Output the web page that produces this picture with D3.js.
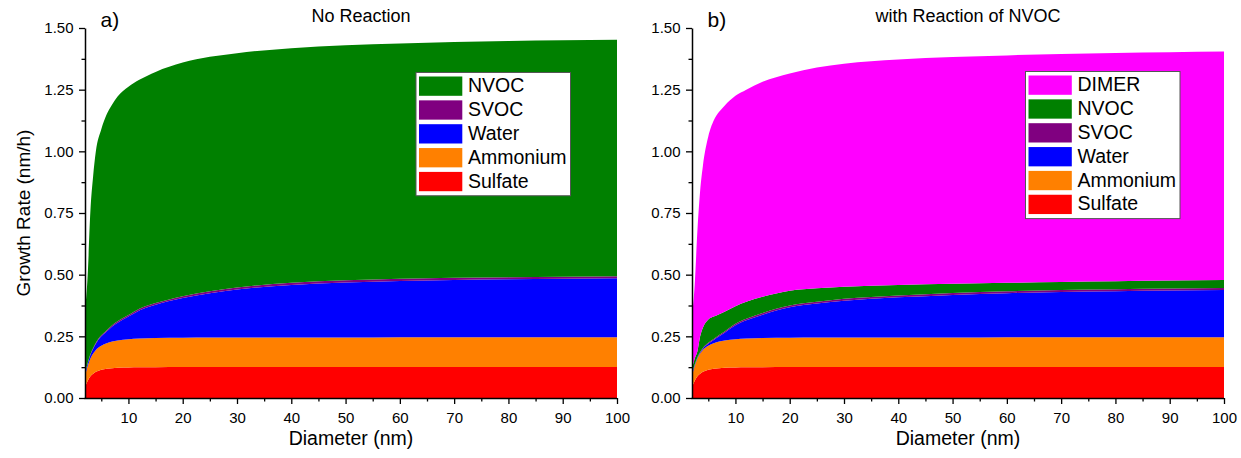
<!DOCTYPE html>
<html>
<head>
<meta charset="utf-8">
<script src="https://cdn.jsdelivr.net/npm/d3@7"></script>
<style>
  body { margin: 0; background: #fff; }
  svg text { font-family: "Liberation Sans", Arial, sans-serif; fill: #000; }
</style>
</head>
<body>
<div id="chart"></div>
<script>
var diameters = [2, 2.5, 3, 3.5, 4, 5, 6, 7, 8, 10, 12, 15, 20, 25, 30, 40, 50, 60, 70, 80, 90, 100];

// contributions to growth rate (nm/h), stacked bottom to top
var sulfate  = [0.045, 0.07, 0.088, 0.098, 0.106, 0.115, 0.119, 0.121, 0.123, 0.124, 0.125, 0.125, 0.126, 0.126, 0.126, 0.126, 0.126, 0.126, 0.126, 0.126, 0.126, 0.126];
var ammonium = [0.045, 0.06, 0.072, 0.082, 0.089, 0.097, 0.103, 0.108, 0.11, 0.114, 0.116, 0.118, 0.118, 0.119, 0.119, 0.119, 0.119, 0.12, 0.12, 0.12, 0.12, 0.12];

// a) no reaction
var waterA = [0.01, 0.01, 0.015, 0.02, 0.025, 0.038, 0.048, 0.061, 0.072, 0.092, 0.114, 0.135, 0.161, 0.18, 0.195, 0.213, 0.223, 0.228, 0.232, 0.235, 0.237, 0.239];
var svocA  = [0.002, 0.002, 0.003, 0.003, 0.004, 0.004, 0.005, 0.005, 0.006, 0.006, 0.007, 0.007, 0.008, 0.008, 0.008, 0.009, 0.009, 0.009, 0.009, 0.009, 0.009, 0.009];
var nvocA  = [0.248, 0.358, 0.582, 0.697, 0.776, 0.836, 0.875, 0.895, 0.911, 0.926, 0.928, 0.937, 0.947, 0.95, 0.95, 0.951, 0.953, 0.954, 0.956, 0.957, 0.958, 0.958];

// b) with reaction of NVOC
var waterB = [0.01, 0.004, 0.003, 0.003, 0.005, 0.008, 0.013, 0.021, 0.032, 0.057, 0.074, 0.095, 0.124, 0.138, 0.149, 0.163, 0.173, 0.179, 0.184, 0.187, 0.19, 0.192];
var svocB  = [0.002, 0.002, 0.002, 0.003, 0.003, 0.004, 0.004, 0.005, 0.005, 0.006, 0.006, 0.007, 0.007, 0.007, 0.008, 0.008, 0.008, 0.008, 0.008, 0.008, 0.008, 0.008];
var nvocB  = [0.018, 0.024, 0.025, 0.064, 0.082, 0.094, 0.091, 0.085, 0.08, 0.071, 0.069, 0.065, 0.06, 0.055, 0.049, 0.042, 0.037, 0.034, 0.032, 0.032, 0.032, 0.032];
var dimerB = [0.21, 0.3, 0.49, 0.59, 0.655, 0.742, 0.795, 0.82, 0.835, 0.853, 0.86, 0.872, 0.881, 0.895, 0.904, 0.914, 0.919, 0.922, 0.925, 0.926, 0.926, 0.927];

var xTicks = [10, 20, 30, 40, 50, 60, 70, 80, 90, 100];
var yTicks = [0, 0.25, 0.5, 0.75, 1.0, 1.25, 1.5];

var colors = {
  Sulfate: "#ff0000",
  Ammonium: "#ff8000",
  Water: "#0000ff",
  SVOC: "#800080",
  NVOC: "#008000",
  DIMER: "#ff00ff"
};

var svg = d3.select("#chart").append("svg")
  .attr("width", 1241)
  .attr("height", 458);

var plotTop = 28, plotBottom = 398, plotW = 532;

function drawPanel(left, letter, title, series) {
  var g = svg.append("g");

  var x = d3.scaleLinear().domain([2, 100]).range([left, left + plotW]);
  var y = d3.scaleLinear().domain([0, 1.5]).range([plotBottom, plotTop]);

  // build rows for d3.stack
  var keys = series.map(s => s.name);
  var rows = diameters.map(function (d, i) {
    var row = { d: d };
    series.forEach(s => row[s.name] = s.values[i]);
    return row;
  });
  var stacked = d3.stack().keys(keys)(rows);

  var area = d3.area()
    .curve(d3.curveMonotoneX)
    .x(p => x(p.data.d))
    .y0(p => y(p[0]))
    .y1(p => y(p[1]));

  g.selectAll("path.layer")
    .data(stacked)
    .enter()
    .append("path")
    .attr("class", "layer")
    .attr("fill", s => colors[s.key])
    .attr("d", area);

  // x axis, major then minor ticks
  var xAxis = g.append("g")
    .attr("transform", `translate(0, ${plotBottom})`)
    .call(d3.axisBottom(x).tickValues(xTicks).tickSize(6).tickSizeOuter(0).tickPadding(8));
  g.append("g")
    .attr("transform", `translate(0, ${plotBottom})`)
    .call(d3.axisBottom(x).tickValues(d3.range(5, 100, 10)).tickSize(3.5).tickFormat(""))
    .call(a => a.select(".domain").remove());
  xAxis.select(".domain").attr("stroke-width", 1.5).attr("d", `M${left - 0.5},0.5H${left + plotW}`);

  // y axis
  var yAxis = g.append("g")
    .attr("transform", `translate(${left}, 0)`)
    .call(d3.axisLeft(y).tickValues(yTicks).tickSize(6).tickSizeOuter(0).tickPadding(5.5).tickFormat(d3.format(".2f")));
  g.append("g")
    .attr("transform", `translate(${left}, 0)`)
    .call(d3.axisLeft(y).tickValues(d3.range(0.125, 1.5, 0.25)).tickSize(3.5).tickFormat(""))
    .call(a => a.select(".domain").remove());
  yAxis.select(".domain").attr("stroke-width", 1.5);

  g.selectAll(".tick line").attr("stroke-width", 1.3);
  g.selectAll(".tick text").style("font-size", "15px").style("font-family", "Liberation Sans, Arial, sans-serif");

  // labels
  g.append("text")
    .attr("x", left + plotW / 2)
    .attr("y", 445)
    .attr("text-anchor", "middle")
    .style("font-size", "19.5px")
    .text("Diameter (nm)");

  g.append("text")
    .attr("x", left + 15.5)
    .attr("y", 27)
    .style("font-size", "21px")
    .text(letter);

  g.append("text")
    .attr("x", left + 276)
    .attr("y", 22)
    .attr("text-anchor", "middle")
    .style("font-size", "18px")
    .text(title);

  return g;
}

function drawLegend(g, bx, by, bw, items) {
  var rowH = 23.85;
  var legend = g.append("g").attr("transform", `translate(${bx}, ${by})`);
  legend.append("rect")
    .attr("width", bw)
    .attr("height", items.length * rowH + 4)
    .attr("fill", "#fff")
    .attr("stroke", "#555")
    .attr("stroke-width", 1);
  items.forEach(function (name, i) {
    legend.append("rect")
      .attr("x", 3)
      .attr("y", 4 + i * rowH)
      .attr("width", 43.3)
      .attr("height", 19.3)
      .attr("fill", colors[name]);
    legend.append("text")
      .attr("x", 52)
      .attr("y", 19.6 + i * rowH)
      .style("font-size", "19.5px")
      .text(name);
  });
}

var panelA = drawPanel(85, "a)", "No Reaction", [
  { name: "Sulfate", values: sulfate },
  { name: "Ammonium", values: ammonium },
  { name: "Water", values: waterA },
  { name: "SVOC", values: svocA },
  { name: "NVOC", values: nvocA }
]);

var panelB = drawPanel(692, "b)", "with Reaction of NVOC", [
  { name: "Sulfate", values: sulfate },
  { name: "Ammonium", values: ammonium },
  { name: "Water", values: waterB },
  { name: "SVOC", values: svocB },
  { name: "NVOC", values: nvocB },
  { name: "DIMER", values: dimerB }
]);

drawLegend(panelA, 416, 72.5, 154.5, ["NVOC", "SVOC", "Water", "Ammonium", "Sulfate"]);
drawLegend(panelB, 1025.5, 71.5, 154.5, ["DIMER", "NVOC", "SVOC", "Water", "Ammonium", "Sulfate"]);

// y-axis title only on the left panel
svg.append("text")
  .attr("transform", "translate(30, 213) rotate(-90)")
  .attr("text-anchor", "middle")
  .style("font-size", "19px")
  .text("Growth Rate (nm/h)");
</script>
</body>
</html>
